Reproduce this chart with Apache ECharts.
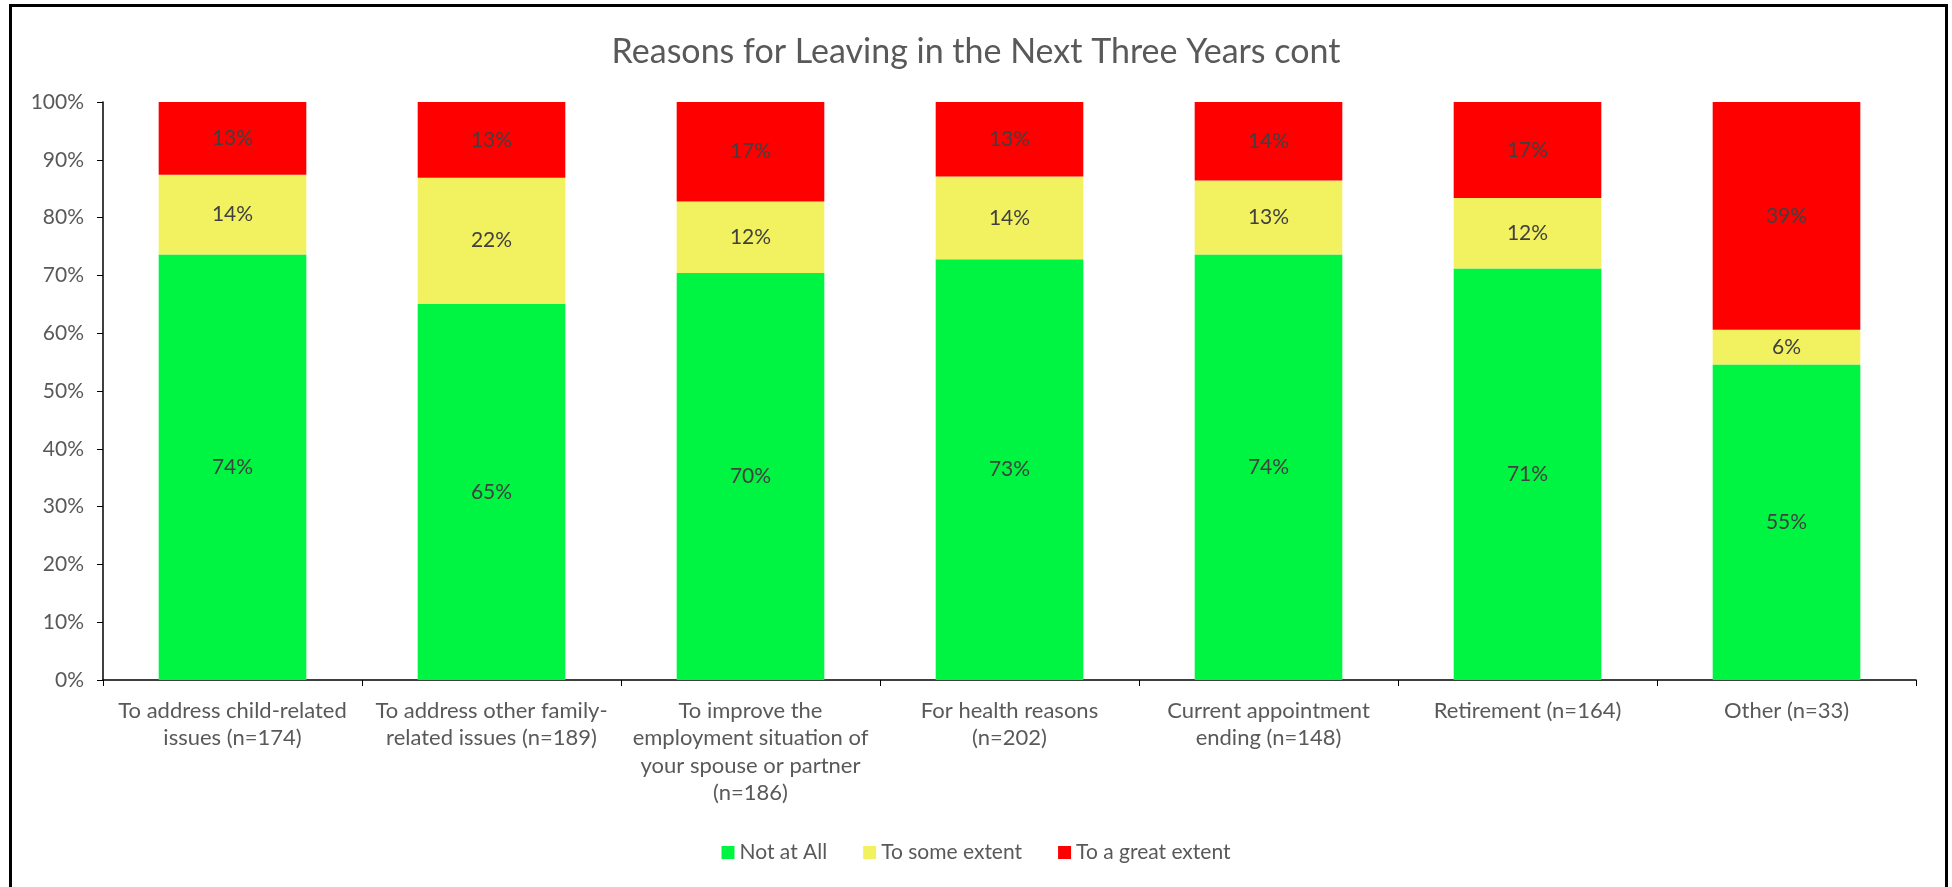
<!DOCTYPE html>
<html>
<head>
<meta charset="utf-8">
<script src="https://cdn.jsdelivr.net/npm/echarts@6/dist/echarts.min.js"></script>
<style>
html,body{margin:0;padding:0;background:#fff;}
#chart{width:1952px;height:887px;}
</style>
</head>
<body>
<div id="chart"></div>
<script>
var titleText = 'Reasons for Leaving in the Next Three Years cont';
var categories = [
  'To address child-related\nissues (n=174)',
  'To address other family-\nrelated issues (n=189)',
  'To improve the\nemployment situation of\nyour spouse or partner\n(n=186)',
  'For health reasons\n(n=202)',
  'Current appointment\nending (n=148)',
  'Retirement (n=164)',
  'Other (n=33)'
];
var seriesNames = ['Not at All', 'To some extent', 'To a great extent'];
var notAtAll     = [73.6, 65.1, 70.4, 72.8, 73.6, 71.2, 54.6];
var someExtent   = [13.8, 21.8, 12.4, 14.3, 12.8, 12.2, 6.0];
var greatExtent  = [12.6, 13.1, 17.2, 12.9, 13.6, 16.6, 39.4];
var yTicks = [0, 10, 20, 30, 40, 50, 60, 70, 80, 90, 100];

var colors = ['#00F442', '#F2F261', '#FF0000'];
var FONT = 'Lato';
var chart = echarts.init(document.getElementById('chart'));
function mk(name, data, color) {
  return {
    name: name, type: 'bar', stack: 'total', data: data,
    barCategoryGap: '43%',
    itemStyle: { color: color },
    label: {
      show: true, position: 'inside', color: '#404040',
      fontFamily: FONT, fontSize: 21,
      formatter: function (p) { return Math.round(p.value) + '%'; }
    }
  };
}
chart.setOption({
  animation: false,
  backgroundColor: '#fff',
  title: {
    text: titleText, left: 'center', top: 30,
    textStyle: { fontFamily: FONT, fontSize: 34, fontWeight: 'normal', color: '#595959' }
  },
  legend: {
    data: seriesNames, bottom: 19, left: 'center',
    itemWidth: 13, itemHeight: 13, itemGap: 36,
    icon: 'rect',
    textStyle: { fontFamily: FONT, fontSize: 21, color: '#595959' }
  },
  grid: { left: 103, right: 36, top: 102, bottom: 207, containLabel: false },
  xAxis: {
    type: 'category', data: categories,
    axisLine: { lineStyle: { color: '#000', width: 1.5 } },
    axisTick: { show: true, length: 6, alignWithLabel: false, lineStyle: { color: '#000' } },
    axisLabel: { interval: 0, fontFamily: FONT, fontSize: 22, color: '#595959', lineHeight: 27.5, margin: 17 }
  },
  yAxis: {
    type: 'value', min: yTicks[0], max: yTicks[yTicks.length - 1], interval: 10,
    splitLine: { show: false },
    axisLine: { show: true, lineStyle: { color: '#000', width: 1.5 } },
    axisTick: { show: true, length: 6, lineStyle: { color: '#000' } },
    axisLabel: { fontFamily: FONT, fontSize: 21, color: '#595959', margin: 19, formatter: '{value}%' }
  },
  graphic: [{
    type: 'rect', left: 8, top: 3, silent: true,
    shape: { x: 0, y: 0, width: 1936, height: 900 },
    style: { fill: 'none', stroke: '#000', lineWidth: 3 }
  }],
  series: [
    mk(seriesNames[0], notAtAll, colors[0]),
    mk(seriesNames[1], someExtent, colors[1]),
    mk(seriesNames[2], greatExtent, colors[2])
  ]
});
</script>
</body>
</html>
